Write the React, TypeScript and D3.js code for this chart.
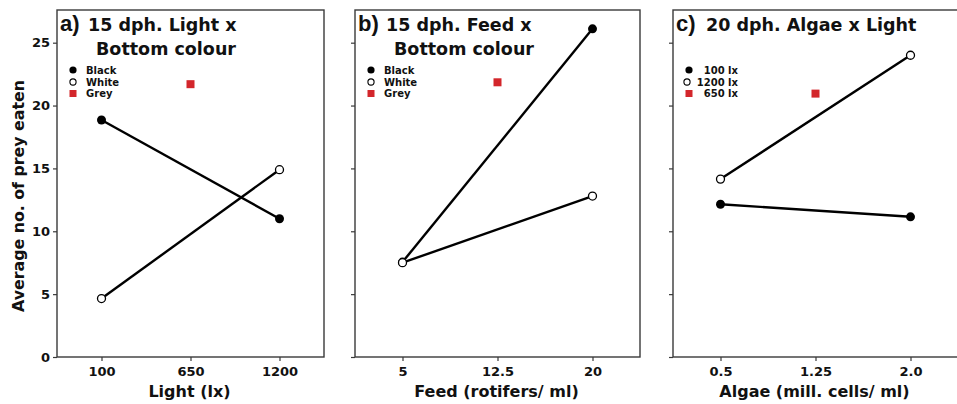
import React, { useEffect, useRef } from 'react';
import * as d3 from 'd3';

// values
const lightLevels = ['100', '650', '1200'];
const feedLevels = ['5', '12.5', '20'];
const algaeLevels = ['0.5', '1.25', '2.0'];
const yTicks = [0, 5, 10, 15, 20, 25];

// a) Light x Bottom colour
const aBlack = [18.85, 11.0];
const aWhite = [4.65, 14.9];
const aGrey = 21.7;
// b) Feed x Bottom colour
const bBlack = [7.55, 26.1];
const bWhite = [7.5, 12.8];
const bGrey = 21.85;
// c) Algae x Light
const c100 = [12.15, 11.15];
const c1200 = [14.15, 24.0];
const c650 = 20.95;

const FONT = "'DejaVu Sans', Verdana, sans-serif";

interface Panel {
  left: number;
  right: number;
  letter: string;
  title: string[];
  levels: string[];
  xLabel: string;
  filled: number[];
  open: number[];
  grey: number;
  legend: string[];
  showY: boolean;
}

const panels: Panel[] = [
  { left: 57, right: 324, letter: 'a)', title: ['15 dph. Light x', 'Bottom colour'], levels: lightLevels,
    xLabel: 'Light (lx)', filled: aBlack, open: aWhite, grey: aGrey, legend: ['Black', 'White', 'Grey'], showY: true },
  { left: 355, right: 640, letter: 'b)', title: ['15 dph. Feed x', 'Bottom colour'], levels: feedLevels,
    xLabel: 'Feed (rotifers/ ml)', filled: bBlack, open: bWhite, grey: bGrey, legend: ['Black', 'White', 'Grey'], showY: false },
  { left: 673, right: 958, letter: 'c)', title: ['20 dph. Algae x Light'], levels: algaeLevels,
    xLabel: 'Algae (mill. cells/ ml)', filled: c100, open: c1200, grey: c650, legend: ['100 lx', '1200 lx', '650 lx'], showY: false },
];

const App = () => {
  const svgRef = useRef<SVGSVGElement>(null);

  useEffect(() => {
    const svg = d3.select(svgRef.current);
    svg.selectAll('*').remove();

    const top = 10;
    const bottom = 357;
    const y = d3.scaleLinear().domain([0, 27.6]).range([bottom, top]);

    panels.forEach((p, pi) => {
      const x = d3.scaleLinear().domain([-0.5, 2.5]).range([p.left, p.right]);
      const g = svg.append('g');

      // frame
      g.append('rect')
        .attr('x', p.left).attr('y', top)
        .attr('width', p.right - p.left).attr('height', bottom - top)
        .attr('fill', 'none').attr('stroke', '#3a3a3a').attr('stroke-width', 1.4);

      // axes
      const yAxis = d3.axisLeft(y).tickValues(yTicks).tickSize(4).tickPadding(3)
        .tickFormat(p.showY ? (d) => String(d) : () => '');
      const ya = g.append('g').attr('transform', `translate(${p.left},0)`).call(yAxis);
      const xAxis = d3.axisBottom(x).tickValues([0, 1, 2]).tickSize(4).tickPadding(6)
        .tickFormat((d) => p.levels[d as number]);
      const xa = g.append('g').attr('transform', `translate(0,${bottom})`).call(xAxis);
      [ya, xa].forEach((a) => {
        a.select('.domain').remove();
        a.selectAll('line').attr('stroke', '#3a3a3a').attr('stroke-width', 1.2);
        a.selectAll('text').attr('font-family', FONT).attr('font-weight', 'bold')
          .attr('font-size', 13).attr('fill', '#111');
      });

      // x label
      g.append('text')
        .attr('x', (p.left + p.right) / 2 - 1).attr('y', 397)
        .attr('text-anchor', 'middle')
        .attr('font-family', FONT).attr('font-weight', 'bold').attr('font-size', 16)
        .attr('fill', '#111').text(p.xLabel);

      // titles
      const tx = p.left + 3;
      g.append('text').attr('x', tx).attr('y', 31)
        .attr('font-family', "'Liberation Sans', Arial, sans-serif").attr('font-weight', 'bold')
        .attr('font-size', 22).attr('fill', '#111').text(p.letter);
      g.append('text').attr('x', tx + (pi === 2 ? 30 : 28)).attr('y', 31)
        .attr('font-family', FONT).attr('font-weight', 'bold').attr('font-size', 17.5)
        .attr('fill', '#111').text(p.title[0]);
      if (p.title[1]) {
        g.append('text').attr('x', tx + 106).attr('y', 55)
          .attr('text-anchor', 'middle')
          .attr('font-family', FONT).attr('font-weight', 'bold').attr('font-size', 17.5)
          .attr('fill', '#111').text(p.title[1]);
      }

      // lines
      const line = d3.line<number>().x((_, i) => x(i * 2)).y((d) => y(d));
      [p.filled, p.open].forEach((s) => {
        g.append('path').attr('d', line(s)).attr('fill', 'none')
          .attr('stroke', '#000').attr('stroke-width', 2.4);
      });
      p.filled.forEach((v, i) => {
        g.append('circle').attr('cx', x(i * 2)).attr('cy', y(v)).attr('r', 4.5).attr('fill', '#000');
      });
      p.open.forEach((v, i) => {
        g.append('circle').attr('cx', x(i * 2)).attr('cy', y(v)).attr('r', 4)
          .attr('fill', '#fff').attr('stroke', '#000').attr('stroke-width', 1.3);
      });
      g.append('rect').attr('x', x(1) - 4).attr('y', y(p.grey) - 4)
        .attr('width', 8).attr('height', 8).attr('fill', '#d3262b');

      // legend
      const mx = p.left + 16;
      const rows = [70, 82, 93.5];
      const lg = g.append('g');
      lg.append('circle').attr('cx', mx).attr('cy', rows[0]).attr('r', 3.6).attr('fill', '#000');
      lg.append('circle').attr('cx', pi === 2 ? mx - 2 : mx).attr('cy', rows[1]).attr('r', 3.1)
        .attr('fill', '#fff').attr('stroke', '#000').attr('stroke-width', 1.1);
      lg.append('rect').attr('x', mx - 3.5).attr('y', rows[2] - 3.5).attr('width', 7).attr('height', 7)
        .attr('fill', '#d3262b');
      p.legend.forEach((t, i) => {
        lg.append('text')
          .attr('x', pi === 2 ? mx + 49 : mx + 13).attr('y', rows[i] + 3.5)
          .attr('text-anchor', pi === 2 ? 'end' : 'start')
          .attr('font-family', FONT).attr('font-weight', 'bold').attr('font-size', 10)
          .attr('fill', '#111').text(t);
      });
    });

    // y label
    svg.append('text')
      .attr('transform', 'translate(24,196) rotate(-90)')
      .attr('text-anchor', 'middle')
      .attr('font-family', FONT).attr('font-weight', 'bold').attr('font-size', 15.8)
      .attr('fill', '#111').text('Average no. of prey eaten');
  }, []);

  return (
    <svg ref={svgRef} width={957} height={404}
      style={{ position: 'absolute', left: 0, top: 0, background: '#fff' }} />
  );
};

export default App;
